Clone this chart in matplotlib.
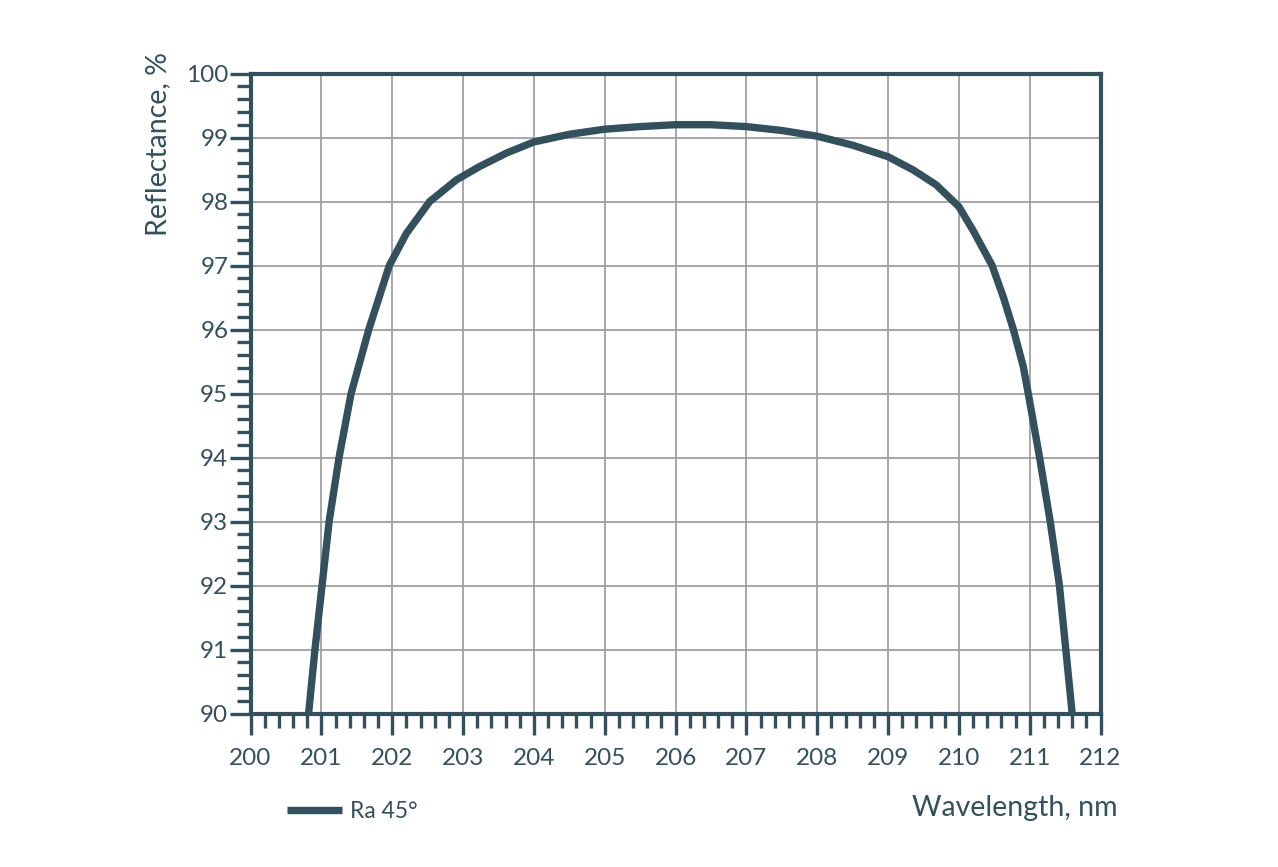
import matplotlib
matplotlib.use("Agg")
import matplotlib.pyplot as plt
from matplotlib.ticker import MultipleLocator

wavelength = [200.82, 200.91, 201.01, 201.11, 201.25, 201.42, 201.67, 201.96,
              202.20, 202.53, 202.91, 203.24, 203.62, 204.0, 204.5, 205.0,
              205.5, 206.0, 206.5, 207.0, 207.5, 208.0, 208.5, 209.0, 209.36,
              209.68, 210.0, 210.2, 210.47, 210.63, 210.77, 210.91, 210.98,
              211.14, 211.29, 211.42, 211.51, 211.60]
reflectance = [90.0, 91.0, 92.0, 93.0, 94.0, 95.0, 96.0, 97.0,
               97.5, 98.0, 98.34, 98.55, 98.76, 98.93, 99.05, 99.13,
               99.17, 99.2, 99.2, 99.17, 99.11, 99.02, 98.88, 98.70, 98.49,
               98.26, 97.92, 97.55, 97.0, 96.5, 96.0, 95.42, 95.0,
               94.0, 93.0, 92.0, 91.0, 90.0]

series_label = "Ra 45°"
xlabel = "Wavelength, nm"
ylabel = "Reflectance, %"

C = "#34505c"
plt.rcParams['font.family'] = ['Lato', 'DejaVu Sans']

fig = plt.figure(figsize=(12.78, 8.67), dpi=100)
ax = fig.add_axes([250.5/1278, 1-713.5/867, 850/1278, 640/867])

ax.plot(wavelength, reflectance, color=C, lw=5.3, solid_capstyle='butt',
        solid_joinstyle='round', zorder=3)
ax.set_xlim(200, 212)
ax.set_ylim(90, 100)
ax.xaxis.set_major_locator(MultipleLocator(1))
ax.xaxis.set_minor_locator(MultipleLocator(0.2))
ax.yaxis.set_major_locator(MultipleLocator(1))
ax.yaxis.set_minor_locator(MultipleLocator(0.2))
ax.grid(True, which='major', color='#a0a0a4', lw=1.3, zorder=0)
for s in ax.spines.values():
    s.set_color(C)
    s.set_linewidth(3)
ax.tick_params(which='major', direction='out', length=15, width=2.4, color=C,
               labelcolor=C, labelsize=17.5)
ax.tick_params(which='minor', direction='out', length=10, width=2.4, color=C)
ax.tick_params(axis='x', which='major', pad=10)
ax.tick_params(axis='y', which='major', pad=1)

fig.text(1118/1278, 1-808/867, xlabel, ha='right', va='center', color=C, fontsize=20.5)
fig.text(158/1278, 1-144/867, ylabel, ha='center', va='center', rotation=90,
         color=C, fontsize=20.5)

ax.legend([plt.Line2D([], [], color=C, lw=5.3, solid_capstyle='butt')], [series_label],
          loc='center left', bbox_to_anchor=(287/1278, 1-812/867),
          bbox_transform=fig.transFigure, frameon=False, fontsize=16.5,
          labelcolor=C, handlelength=2.4, handletextpad=0.35, borderpad=0,
          borderaxespad=0)

fig.savefig("out.png", dpi=100)
